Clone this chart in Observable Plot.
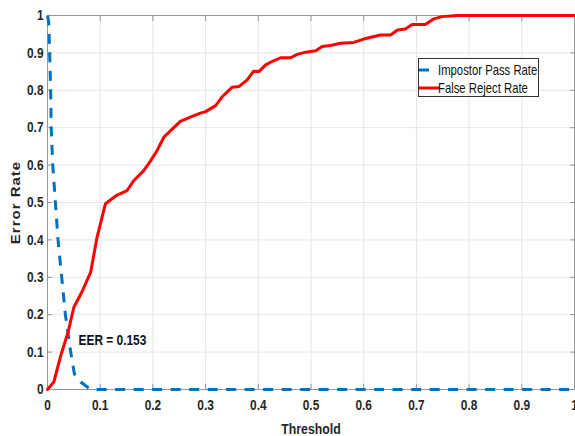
<!DOCTYPE html>
<html>
<head>
<meta charset="utf-8">
<script src="https://cdn.jsdelivr.net/npm/d3@7"></script>
<script src="https://cdn.jsdelivr.net/npm/@observablehq/plot@0.6"></script>
<style>
  html, body { margin: 0; padding: 0; background: #fff; }
  #wrap { position: relative; width: 575px; height: 436px; }
  #legend { position: absolute; left: 418px; top: 58px; }
</style>
</head>
<body>
<div id="wrap"></div>
<script>
// Threshold ticks and error-rate ticks
const xTicks = [0, 0.1, 0.2, 0.3, 0.4, 0.5, 0.6, 0.7, 0.8, 0.9, 1];
const yTicks = [0, 0.1, 0.2, 0.3, 0.4, 0.5, 0.6, 0.7, 0.8, 0.9, 1];

// Impostor Pass Rate (blue dashed)
const iprThreshold = [0, 0.0025, 0.004, 0.006, 0.007, 0.010, 0.015, 0.020, 0.027, 0.034, 0.044, 0.051, 0.063, 0.082, 1];
const iprRate      = [1, 0.98,   0.90,  0.80,  0.70,  0.60,  0.50,  0.40,  0.30,  0.20,  0.10,  0.042, 0.020, 0,     0];

// False Reject Rate (red)
const frrThreshold = [0, 0.012, 0.025, 0.039, 0.050, 0.065, 0.082, 0.094, 0.110, 0.113, 0.132, 0.151, 0.164, 0.183, 0.195, 0.208, 0.221, 0.237, 0.252, 0.271, 0.290, 0.300, 0.319, 0.331, 0.350, 0.363, 0.379, 0.391, 0.401, 0.414, 0.426, 0.442, 0.461, 0.474, 0.490, 0.509, 0.521, 0.537, 0.556, 0.581, 0.600, 0.632, 0.651, 0.664, 0.679, 0.692, 0.717, 0.733, 0.749, 0.777, 0.800, 0.900, 1];
const frrRate      = [0, 0.020, 0.090, 0.153, 0.220, 0.260, 0.314, 0.407, 0.497, 0.500, 0.520, 0.532, 0.559, 0.586, 0.610, 0.639, 0.675, 0.697, 0.717, 0.728, 0.739, 0.743, 0.759, 0.782, 0.808, 0.810, 0.828, 0.851, 0.850, 0.868, 0.877, 0.887, 0.887, 0.896, 0.902, 0.906, 0.917, 0.920, 0.926, 0.928, 0.937, 0.948, 0.948, 0.961, 0.964, 0.976, 0.976, 0.991, 0.997, 1.000, 1.000, 1.000, 1];

const seriesNames = ["Impostor Pass Rate", "False Reject Rate"];
const seriesColors = ["#0072BD", "#FF0000"];
const eerText = "EER = 0.153";
const eerPos = [0.059, 0.131];
const xLabel = "Threshold";
const yLabel = "Error Rate";

const ipr = iprThreshold.map((t, i) => ({t, v: iprRate[i]}));
const frr = frrThreshold.map((t, i) => ({t, v: frrRate[i]}));
const fmt = d => String(Math.round(d * 10) / 10);
const font = "'Liberation Sans', Arial, sans-serif";
const squeeze = 0.82;

const chart = Plot.plot({
  width: 575,
  height: 436,
  marginLeft: 47,
  marginRight: 1,
  marginTop: 15,
  marginBottom: 47,
  style: {fontFamily: font, fontSize: "14.5px", fontWeight: "bold", color: "#262626", background: "#fff"},
  x: {domain: [0, 1], label: null},
  y: {domain: [0, 1], label: null},
  marks: [
    Plot.gridX(xTicks, {stroke: "#e6e6e6", strokeOpacity: 1}),
    Plot.gridY(yTicks, {stroke: "#e6e6e6", strokeOpacity: 1}),
    Plot.frame({stroke: "#969696"}),
    // inward ticks on all four sides
    Plot.axisX({ticks: xTicks, anchor: "bottom", tickSize: 5, dy: -5, tickFormat: () => "", label: null, stroke: "#969696"}),
    Plot.axisX({ticks: xTicks, anchor: "top", tickSize: 5, dy: 5, tickFormat: () => "", label: null, stroke: "#969696"}),
    Plot.axisY({ticks: yTicks, anchor: "left", tickSize: 5, dx: 5, tickFormat: () => "", label: null, stroke: "#969696"}),
    Plot.axisY({ticks: yTicks, anchor: "right", tickSize: 5, dx: -5, tickFormat: () => "", label: null, stroke: "#969696"}),
    // labels
    Plot.axisX({ticks: xTicks, anchor: "bottom", tickSize: 0, tickPadding: 10, tickFormat: fmt,
      label: xLabel, labelAnchor: "center", labelOffset: 44, labelArrow: "none"}),
    Plot.axisY({ticks: yTicks, anchor: "left", tickSize: 0, tickPadding: 4, tickFormat: fmt,
      label: yLabel, labelAnchor: "center", labelOffset: 36, labelArrow: "none"}),
    Plot.line(ipr, {x: "t", y: "v", stroke: seriesColors[0], strokeWidth: 3, strokeDasharray: "10,8.5", strokeLinecap: "butt"}),
    Plot.line(frr, {x: "t", y: "v", stroke: seriesColors[1], strokeWidth: 3}),
    Plot.text([eerText], {x: () => eerPos[0], y: () => eerPos[1], text: d => d, textAnchor: "start", fontSize: 14.5, fill: "#111"})
  ]
});

const wrap = document.getElementById("wrap");
wrap.appendChild(chart);

// axis title sizes
d3.select(chart).selectAll("[aria-label='x-axis label'] text").style("font-size", "15px");
d3.select(chart).selectAll("[aria-label='y-axis label'] text").style("font-size", "15px").style("letter-spacing", "1px");

// condensed look of the reference lettering
d3.select(chart).selectAll("text").each(function () {
  const t = this.getAttribute("transform") || "";
  if (/rotate/.test(t)) {
    this.setAttribute("transform", t + ` scale(1,${squeeze})`);
  } else {
    const x = +this.getAttribute("x") || 0;
    this.setAttribute("transform", t + ` translate(${x},0) scale(${squeeze},1) translate(${-x},0)`);
  }
});

// legend (inside plot area)
const lw = 121, lh = 39;
const leg = d3.select(wrap).append("svg").attr("id", "legend").attr("width", lw).attr("height", lh)
  .style("font-family", font).style("font-size", "13.8px");
leg.append("rect").attr("x", 0.5).attr("y", 0.5).attr("width", lw - 1).attr("height", lh - 1)
  .attr("fill", "#fff").attr("stroke", "#333");
seriesNames.forEach((name, i) => {
  const yy = 12 + i * 18;
  leg.append("line").attr("x1", 1).attr("x2", 22).attr("y1", yy).attr("y2", yy)
    .attr("stroke", seriesColors[i]).attr("stroke-width", 3)
    .attr("stroke-dasharray", i === 0 ? "10,12" : null);
  leg.append("text").attr("transform", `translate(20,${yy}) scale(${squeeze},1)`)
    .attr("dy", "0.35em").attr("fill", "#111").text(name);
});
</script>
</body>
</html>
